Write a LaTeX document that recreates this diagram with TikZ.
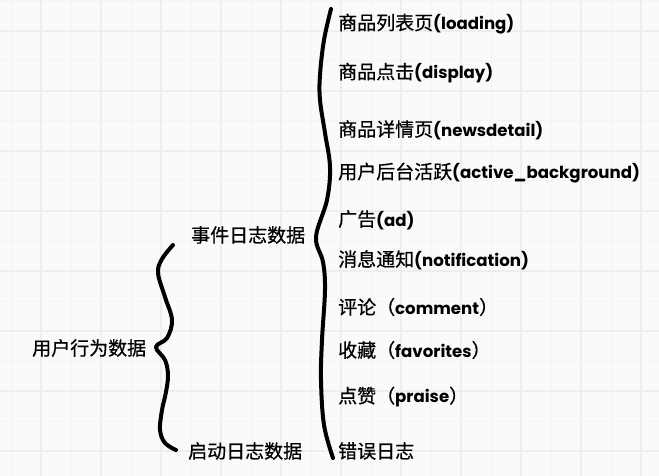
\documentclass[tikz,border=0pt]{standalone}
\usepackage{fontspec}
\setmainfont{Poppins}
\newfontfamily\cjk[FakeBold=0.6]{Noto Sans CJK SC}
\definecolor{bg}{RGB}{250,250,250}
\definecolor{gmaj}{RGB}{238,238,238}
\definecolor{gmin}{RGB}{244,244,244}
\newcommand\zh[1]{{\cjk\mdseries\fontsize{19}{21}\selectfont #1}}
\begin{document}
\begin{tikzpicture}[x=1pt,y=-1pt,
  lbl/.style={anchor=west,inner sep=0pt,font=\fontsize{16.6}{18}\selectfont\bfseries},
  brace/.style={line width=4pt,line cap=round,line join=round}]
\useasboundingbox (0,0) rectangle (659,476);
\fill[bg] (0,0) rectangle (659,476);
\foreach \x in {11,71,...,659} \draw[gmin,line width=1pt] (\x,0)--(\x,476);
\foreach \y in {1,61,...,476} \draw[gmin,line width=1pt] (0,\y)--(659,\y);
\foreach \x in {41,101,...,659} \draw[gmaj,line width=1.5pt] (\x,0)--(\x,476);
\foreach \y in {31,91,...,476} \draw[gmaj,line width=1.5pt] (0,\y)--(659,\y);

\node[lbl] (root) at (32,348) {\zh{用户行为数据}};
\node[lbl] (ev) at (191,235) {\zh{事件日志数据}};
\node[lbl] (st) at (188,451) {\zh{启动日志数据}};

\node[lbl] (i1) at (338,24) {\zh{商品列表页}(loading)};
\node[lbl] (i2) at (338,73) {\zh{商品点击}(display)};
\node[lbl] (i3) at (338,130) {\zh{商品详情页}(newsdetail)};
\node[lbl] (i4) at (338,173) {\zh{用户后台活跃}(active\_background)};
\node[lbl] (i5) at (338,220) {\zh{广告}(ad)};
\node[lbl] (i6) at (338,260) {\zh{消息通知}(notification)};
\node[lbl] (i7) at (338,307) {\zh{评论（}comment\zh{）}};
\node[lbl] (i8) at (338,350) {\zh{收藏（}favorites\zh{）}};
\node[lbl] (i9) at (338,397) {\zh{点赞（}praise\zh{）}};
\node[lbl] (i10) at (338,451) {\zh{错误日志}};

% small brace
\draw[brace] plot[smooth,tension=0.6] coordinates {(173,245) (162,259) (158,273) (165,297) (172,320) (167,338) (156,347) (165,360) (168,375) (166,392) (162,410) (160,430) (165,443) (176,450)};
% big brace
\draw[brace] plot[smooth,tension=0.6] coordinates {(331,9) (324,40) (320,75) (320,100) (325,133) (330,167) (327,200) (316,237) (323,262) (325,290) (322,340) (321,380) (324,425) (333,458)};
\end{tikzpicture}
\end{document}
